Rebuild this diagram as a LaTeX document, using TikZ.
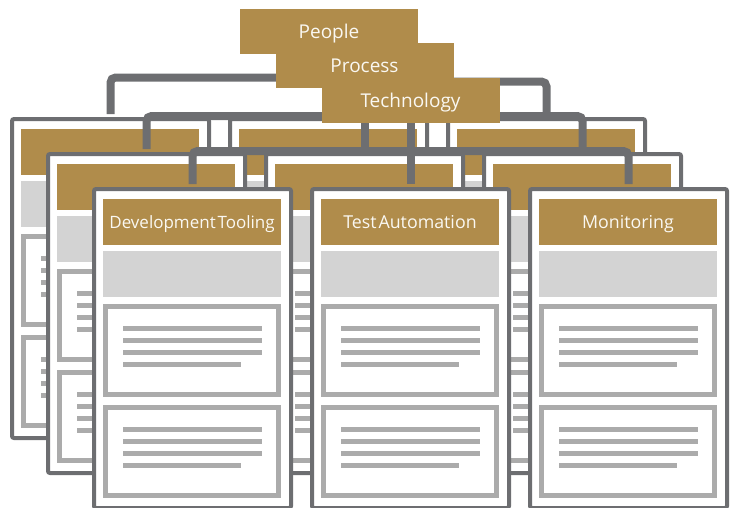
\documentclass[tikz,border=0pt]{standalone}
\usepackage{fontspec}
\setmainfont{Open Sans}[WordSpace=0.4]
\usetikzlibrary{calc}
\definecolor{brownh}{HTML}{B08C4B}
\definecolor{darkg}{HTML}{6D6E71}
\definecolor{bandg}{HTML}{D3D3D3}
\definecolor{lineg}{HTML}{ABABAB}
\definecolor{cream}{HTML}{FAF8F2}
\pgfdeclarelayer{toplayer}
\pgfsetlayers{main,toplayer}
\newcommand\cardfont{\fontsize{17.8}{20}\selectfont}
\newcommand\smallcardfont{\fontsize{17}{20}\selectfont}
\newcommand\labfont{\fontsize{19}{22}\selectfont}
\tikzset{
  cardframe/.style={draw=darkg, line width=4pt, fill=white, rounded corners=2pt,
    minimum width=197pt, minimum height=319pt, inner sep=0pt, outer sep=0pt},
  cardhead/.style={fill=brownh, text=cream, minimum width=178pt, minimum height=45.5pt,
    inner sep=0pt, outer sep=0pt, text height=12.6pt, text depth=0pt, font=\cardfont},
  toplabel/.style={fill=brownh, text=cream, minimum width=178pt, minimum height=45.5pt,
    inner sep=0pt, outer sep=0pt, text height=13.5pt, text depth=0pt, font=\labfont},
  bandbox/.style={fill=bandg},
  ibox/.style={draw=lineg, line width=5pt},
  tline/.style={draw=lineg, line width=5pt},
  conn/.style={draw=darkg, line width=8pt, rounded corners=5pt}
}
% #1 name, #2 x0, #3 y0, #4 title
\newcommand\drawcard[4]{%
  \node[cardframe, anchor=north west] (#1) at (#2+2,#3+2) {};
  \coordinate (#1t) at (#2+100.5,#3-3);
  \node[cardhead, anchor=north west] (#1h) at (#2+11,#3+12) {#4};
  \fill[bandbox] (#2+11,#3+64) rectangle (#2+189,#3+110);
  \draw[ibox] (#2+13.5,#3+119.5) rectangle (#2+186.5,#3+207.5);
  \draw[ibox] (#2+13.5,#3+220.5) rectangle (#2+186.5,#3+308.5);
  \foreach \yy in {141.5,153.5,165.5,242.5,254.5,266.5}
    {\draw[tline] (#2+31,#3+\yy) -- (#2+170,#3+\yy);}
  \foreach \yy in {177.5,278.5}
    {\draw[tline] (#2+31,#3+\yy) -- (#2+149,#3+\yy);}
}
\begin{document}
\begin{tikzpicture}[x=1pt, y=-1pt]
\useasboundingbox (0,0) rectangle (733,507);
\clip (0,0) rectangle (733,507);

\begin{pgfonlayer}{toplayer}
  \node[toplabel] (tech) at (410.5,100.5) {Technology};
  \node[toplabel] (process) at (364.5,65.5) {Process};
  \node[toplabel] (people) at (329,31.5) {People};
\end{pgfonlayer}

% back layer (People)
\drawcard{b1}{10}{117}{}
\drawcard{b2}{228}{117}{}
\drawcard{b3}{446}{117}{}
\coordinate (pjl) at (329,77.5);
\coordinate (pjr) at (329,81.5);
\draw[conn] (people.south) -- (people.south |- b2t);
\draw[conn] (b1t) |- (pjl);
\draw[conn] (b3t) |- (pjr);

% middle layer (Process)
\drawcard{m1}{46}{152}{}
\drawcard{m2}{264}{152}{}
\drawcard{m3}{482}{152}{}
\coordinate (mj) at (364.5,116);
\draw[conn] (process.south) -- (process.south |- m2t);
\draw[conn] (m1t) |- (mj) -| (m3t);

% front layer (Technology)
\drawcard{f1}{92}{187}{\smallcardfont Development Tooling}
\drawcard{f2}{310}{187}{Test Automation}
\drawcard{f3}{528}{187}{Monitoring}
\coordinate (fj) at (410.5,151);
\draw[conn] (tech.south) -- (tech.south |- f2t);
\draw[conn] (f1t) |- (fj) -| (f3t);
\end{tikzpicture}
\end{document}
